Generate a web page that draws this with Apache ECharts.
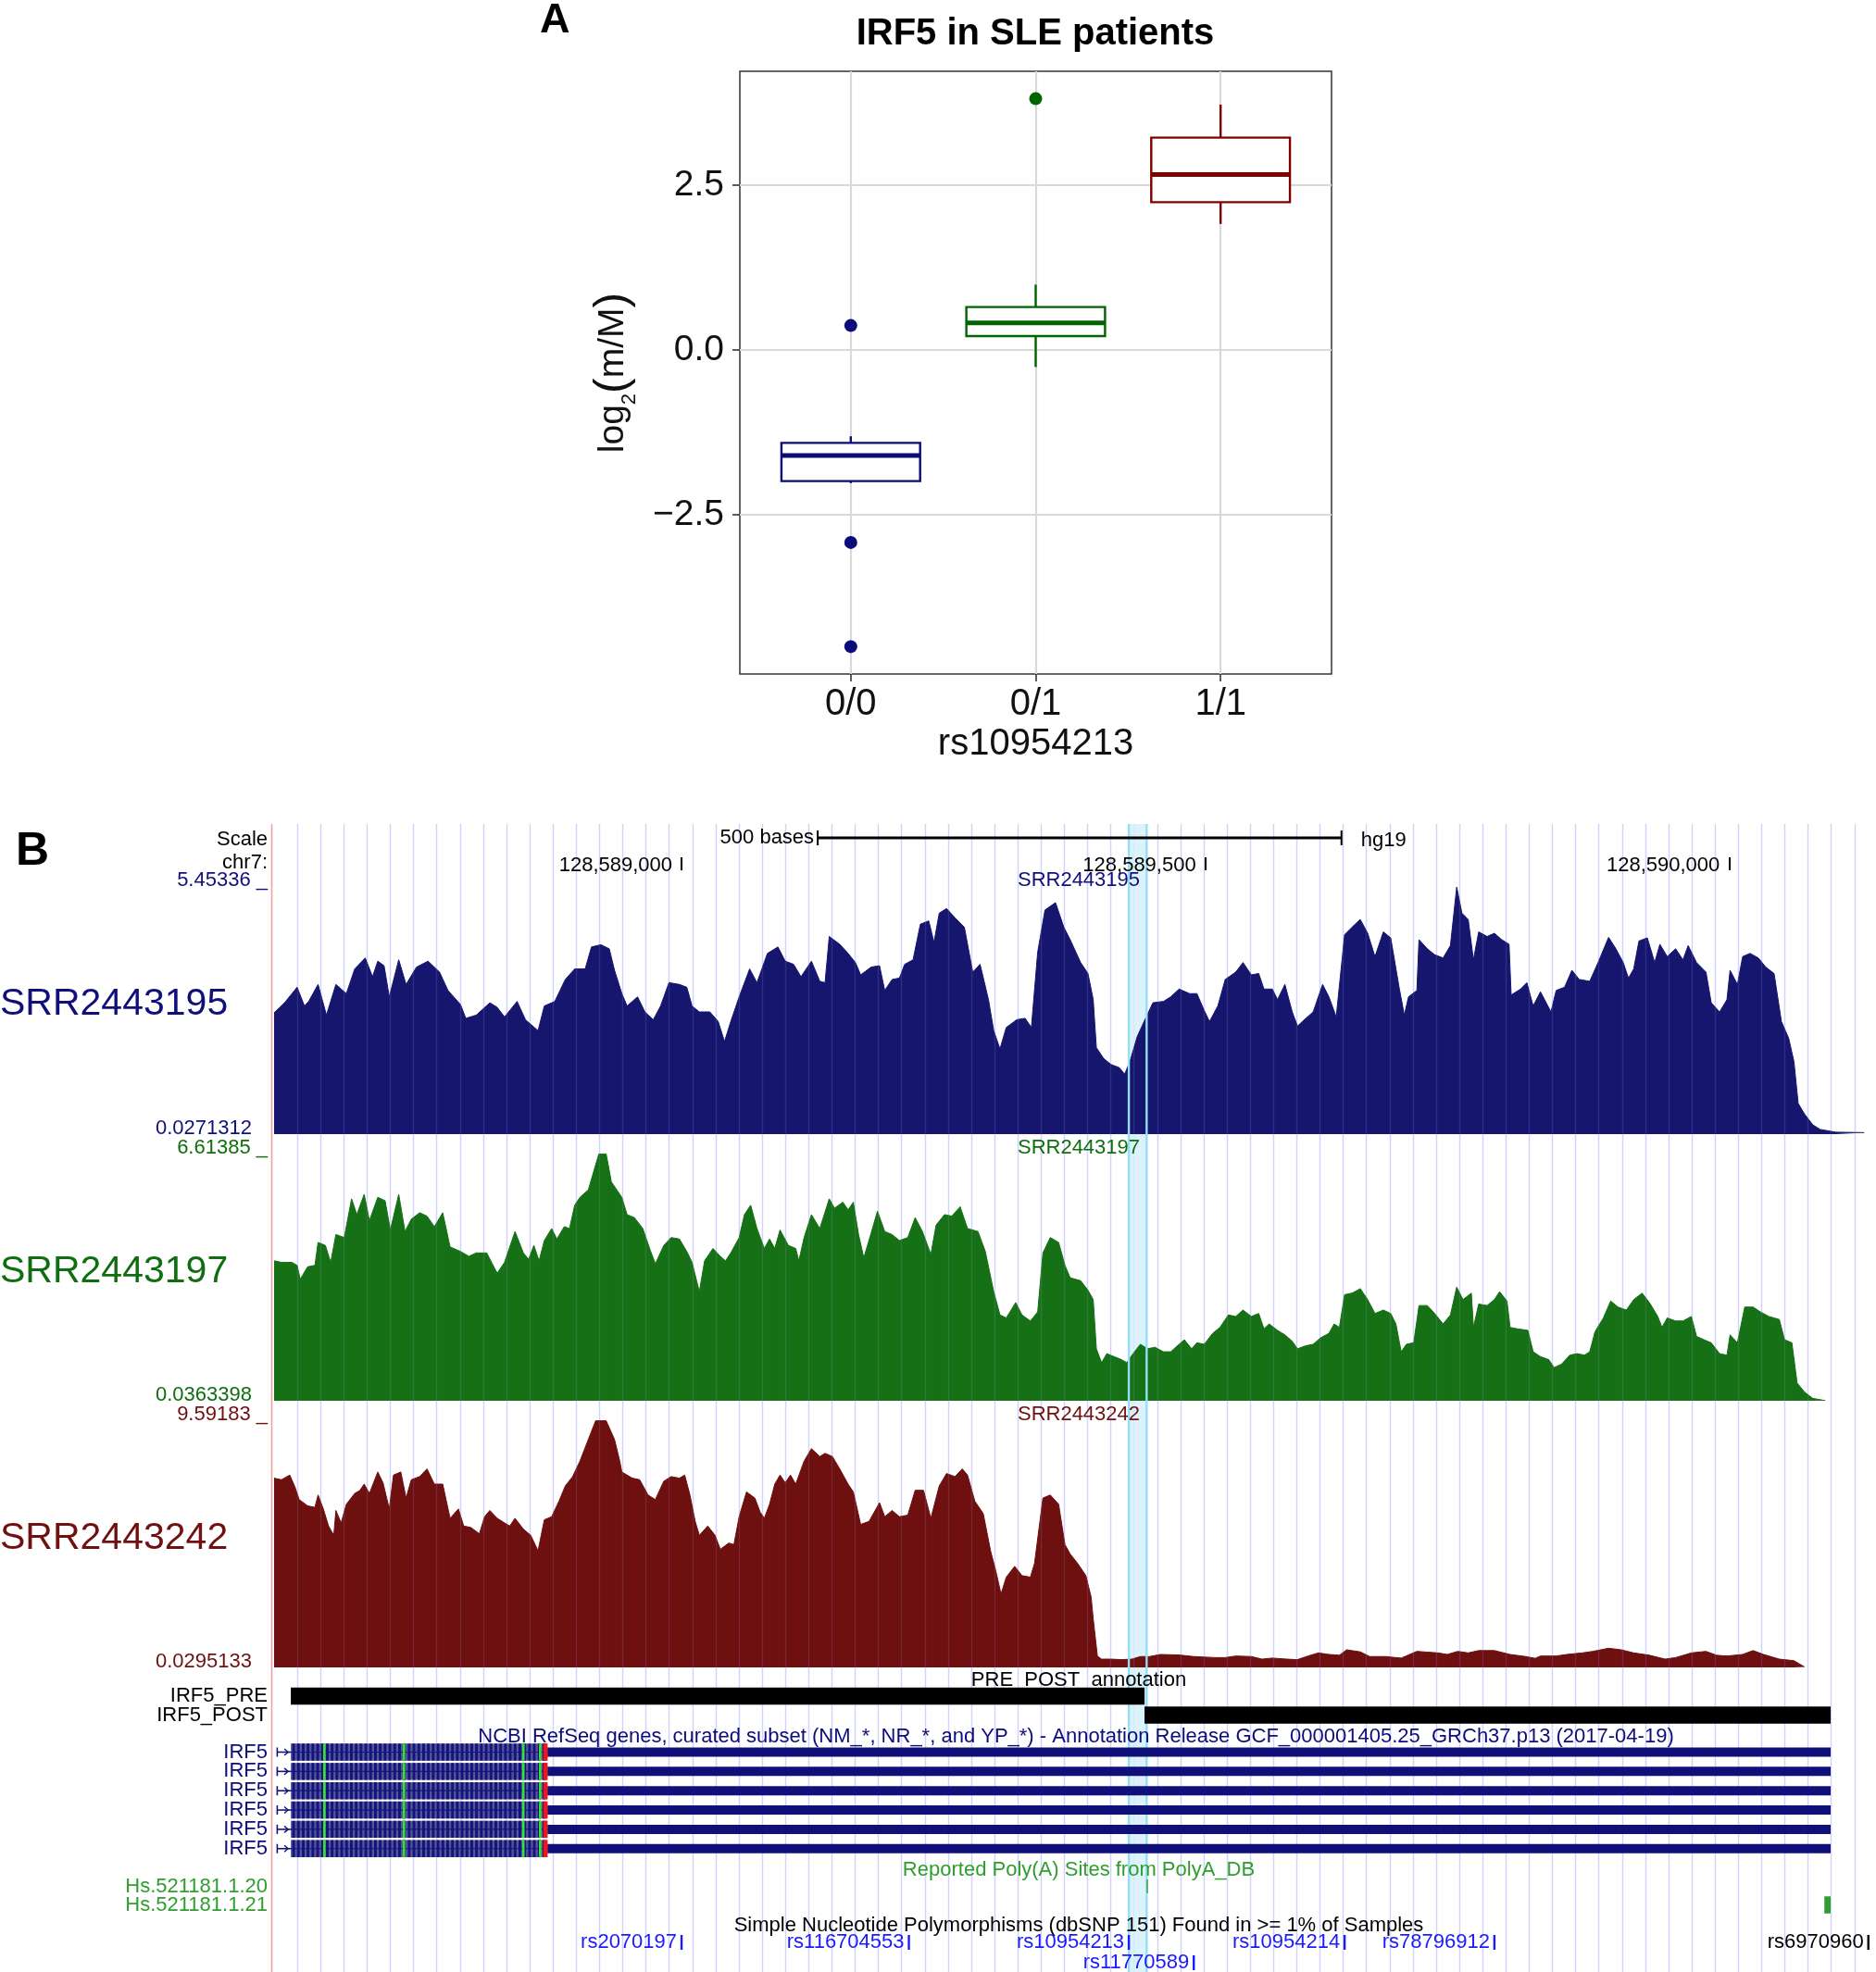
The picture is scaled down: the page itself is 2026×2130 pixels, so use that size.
<!DOCTYPE html>
<html>
<head>
<meta charset="utf-8">
<title>IRF5 in SLE patients</title>
<script src="https://cdn.jsdelivr.net/npm/echarts@6/dist/echarts.min.js"></script>
<style>
html, body { margin: 0; padding: 0; background: #fff; }
#main { width: 2026px; height: 2130px; }
</style>
</head>
<body>
<div id="main"></div>
<script>
var FONT = '"Liberation Sans", Arial, sans-serif';

// ---------- panel A: IRF5 expression by rs10954213 genotype ----------
var genotypes = ['0/0', '0/1', '1/1'];
// [lower whisker, Q1, median, Q3, upper whisker] of log2(m/M)
var boxStats = [
    [-2.02, -1.99, -1.60, -1.41, -1.31],
    [-0.26, 0.21, 0.41, 0.65, 0.99],
    [1.91, 2.24, 2.66, 3.22, 3.72]
];
// [genotype index, log2(m/M)]
var outliers = [[0, 0.37], [0, -2.92], [0, -4.50], [1, 3.81]];
var yTicksA = [-2.5, 0, 2.5];
var genoColors = ['#0b0b7a', '#006400', '#800000'];

// ---------- panel B: UCSC browser view chr7 (hg19) ----------
var VIEW_START = 128588611;
var VIEW_END = 128590135;
var posTicks = [128589000, 128589500, 128590000];
var scaleBar = [128589130, 128589630];
var highlight = [128589427, 128589444];

var trackNames = ['SRR2443195', 'SRR2443197', 'SRR2443242'];
var trackLo = [0.0271312, 0.0363398, 0.0295133];
var trackHi = [5.45336, 6.61385, 9.59183];
var trackColors = ['#16166f', '#167016', '#6e1010'];
var labelColors = ['#10107a', '#0f6e0f', '#701010'];

// coverage, [bases from view start, value]
var cov195 = [
    [0,2.68],[10,2.90],[22,3.24],[29,2.83],[33,2.93],[42,3.30],[50,2.63],[59,3.30],[69,3.10],[77,3.64],
    [87,3.88],[94,3.47],[99,3.81],[105,3.71],[110,3.03],[119,3.84],[126,3.30],[136,3.68],[147,3.81],[158,3.57],
    [166,3.17],[178,2.86],[183,2.56],[193,2.63],[206,2.90],[213,2.80],[220,2.59],[232,2.93],[240,2.53],[252,2.29],
    [258,2.83],[268,2.93],[278,3.41],[287,3.64],[297,3.64],[303,4.12],[312,4.17],[320,4.08],[325,3.61],[332,3.10],
    [337,2.83],[347,3.03],[354,2.70],[362,2.53],[369,2.83],[377,3.34],[387,3.30],[394,3.24],[399,2.83],[406,2.70],
    [416,2.70],[424,2.49],[430,2.05],[436,2.49],[444,3.03],[454,3.64],[461,3.34],[471,3.98],[481,4.12],[488,3.81],
    [496,3.74],[503,3.47],[513,3.81],[521,3.37],[526,3.34],[530,4.35],[540,4.18],[548,3.98],[555,3.78],[560,3.51],
    [570,3.68],[578,3.71],[583,3.17],[590,3.41],[597,3.44],[602,3.74],[610,3.84],[617,4.62],[625,4.69],[630,4.22],
    [635,4.86],[642,4.96],[650,4.76],[659,4.55],[667,3.57],[674,3.74],[682,2.97],[687,2.29],[693,1.89],[699,2.36],
    [709,2.53],[717,2.56],[723,2.36],[729,4.01],[736,4.93],[746,5.09],[754,4.55],
    [760,4.28],[770,3.78],[777,3.54],[782,2.97],[785,1.92],[792,1.68],[799,1.55],[807,1.48],[812,1.34],[817,1.61],
    [824,2.16],[832,2.56],[839,2.90],[849,2.93],[856,3.03],[864,3.20],[874,3.10],[881,3.10],[888,2.73],[893,2.49],
    [901,2.83],[908,3.41],[918,3.57],[925,3.78],[933,3.51],[940,3.54],[945,3.20],[953,3.20],[958,2.97],[965,3.30],
    [972,2.70],[977,2.39],[985,2.56],[992,2.70],[1001,3.30],[1007,3.03],[1014,2.59],[1022,4.39],[1032,4.62],[1037,4.72],
    [1044,4.42],[1051,3.91],[1059,4.45],[1066,4.32],[1074,3.24],[1079,2.63],[1083,3.03],[1091,3.17],[1093,4.28],[1101,4.08],
    [1108,3.95],[1116,3.88],[1123,4.15],[1129,5.43],[1134,4.86],[1140,4.72],[1145,3.84],[1150,4.45],[1158,4.35],[1165,4.42],
    [1172,4.28],[1179,4.18],[1181,3.07],[1190,3.20],[1196,3.34],[1202,2.83],[1209,3.14],[1219,2.70],[1224,3.17],[1232,3.24],
    [1239,3.61],[1246,3.41],[1256,3.37],[1264,3.78],[1274,4.33],[1281,4.08],[1288,3.78],[1293,3.44],[1298,3.64],[1303,4.25],
    [1311,4.32],[1318,3.78],[1323,4.18],[1330,3.91],[1338,4.08],[1345,3.84],[1350,4.15],[1358,3.78],[1367,3.57],[1372,2.90],
    [1380,2.70],[1387,2.97],[1390,3.61],[1397,3.30],[1402,3.91],[1409,3.98],[1417,3.88],[1424,3.68],[1432,3.54],[1439,2.49],
    [1446,2.12],[1451,1.61],[1455,0.70],[1461,0.47],[1469,0.23],[1476,0.13],[1491,0.07],[1518,0.06]
];
var cov197 = [
    [0,3.76],[7,3.72],[17,3.72],[22,3.64],[25,3.27],[32,3.60],[39,3.64],[42,4.25],[49,4.17],[54,3.72],
    [59,4.46],[67,4.38],[74,5.41],[79,4.99],[86,5.53],[91,4.83],[99,5.45],[106,5.36],[111,4.58],[119,5.53],
    [125,4.54],[131,4.87],[139,5.04],[146,4.95],[153,4.67],[161,5.04],[168,4.13],[178,4.01],[186,3.88],[193,3.97],
    [203,3.97],[213,3.43],[220,3.72],[230,4.54],[238,3.97],[243,3.80],[248,4.17],[253,3.76],[258,4.30],[265,4.62],
    [270,4.34],[277,4.67],[282,4.62],[287,5.24],[292,5.45],[300,5.65],[310,6.60],[317,6.61],[322,5.86],[332,5.45],
    [337,4.99],[344,4.91],[352,4.62],[359,4.05],[364,3.68],[372,4.17],[379,4.38],[387,4.34],[394,4.01],[399,3.72],
    [406,2.94],[411,3.76],[419,4.09],[426,3.88],[431,3.76],[436,3.97],[444,4.38],[449,4.99],[455,5.24],[461,4.62],
    [468,4.09],[473,4.34],[478,4.09],[483,4.58],[491,4.17],[498,4.09],[501,3.76],[506,4.38],[513,4.99],[521,4.62],
    [530,5.41],[535,5.16],[543,5.32],[548,5.12],[553,5.32],[558,4.46],[563,3.84],[570,4.50],[576,5.08],[583,4.54],
    [590,4.46],[597,4.30],[605,4.38],[612,4.91],[619,4.54],[627,3.93],[632,4.71],[640,4.99],[647,4.95],[655,5.20],
    [662,4.62],[672,4.54],[679,4.01],[687,2.94],[693,2.32],[699,2.24],[708,2.65],[714,2.32],[722,2.16],[729,2.40],
    [734,3.97],[741,4.38],[749,4.25],
    [755,3.64],[760,3.31],[770,3.23],[777,2.98],[782,2.73],[785,1.42],[790,1.05],[795,1.29],[802,1.21],[809,1.13],
    [814,1.05],[819,1.25],[827,1.54],[834,1.42],[841,1.46],[849,1.34],[856,1.34],[864,1.54],[869,1.66],[876,1.42],
    [881,1.58],[888,1.54],[896,1.83],[903,1.99],[911,2.32],[918,2.28],[925,2.45],[933,2.28],[940,2.36],[945,1.95],
    [950,2.08],[958,1.91],[965,1.79],[972,1.62],[977,1.42],[985,1.50],[992,1.54],[999,1.71],[1007,1.83],[1012,2.08],
    [1017,1.99],[1022,2.86],[1029,2.90],[1037,3.02],[1044,2.73],[1051,2.36],[1059,2.45],[1066,2.36],[1071,2.08],[1076,1.34],
    [1081,1.54],[1088,1.58],[1093,2.57],[1101,2.57],[1108,2.36],[1116,2.08],[1123,2.32],[1129,3.06],[1135,2.73],[1143,2.90],
    [1145,1.99],[1150,2.61],[1158,2.57],[1165,2.73],[1170,2.94],[1177,2.69],[1180,1.99],[1187,1.95],[1197,1.91],[1202,1.34],
    [1209,1.21],[1217,1.13],[1222,0.92],[1229,1.01],[1237,1.25],[1244,1.29],[1251,1.25],[1256,1.34],[1261,1.87],[1269,2.24],
    [1276,2.69],[1283,2.53],[1291,2.45],[1298,2.73],[1306,2.90],[1313,2.65],[1321,2.28],[1325,1.99],[1330,2.24],[1338,2.16],
    [1345,2.16],[1353,2.28],[1358,1.75],[1365,1.66],[1372,1.58],[1380,1.29],[1387,1.25],[1390,1.79],[1397,1.58],[1404,2.53],
    [1412,2.53],[1419,2.40],[1427,2.28],[1437,2.20],[1442,1.66],[1449,1.58],[1454,0.51],[1461,0.27],[1469,0.10],[1481,0.04]
];
var cov242 = [
    [0,7.35],[7,7.29],[15,7.47],[20,7.00],[24,6.52],[32,6.28],[39,6.22],[42,6.70],[47,6.16],[52,5.50],
    [57,5.14],[59,6.10],[64,5.62],[69,6.34],[77,6.76],[82,6.88],[86,7.12],[91,6.76],[99,7.59],[104,7.17],
    [110,6.16],[114,7.47],[121,7.59],[126,6.58],[131,7.29],[139,7.41],[146,7.71],[153,7.12],[161,7.12],[168,5.80],
    [176,6.16],[181,5.50],[188,5.44],[196,5.20],[201,5.86],[206,6.10],[213,5.80],[220,5.62],[225,5.50],[230,5.80],
    [238,5.38],[245,5.14],[252,4.54],[258,5.74],[265,5.86],[272,6.46],[278,7.05],[285,7.41],[292,8.01],[300,8.85],
    [307,9.57],[317,9.57],[325,8.85],[330,8.01],[332,7.59],[342,7.35],[349,7.29],[357,6.70],[364,6.52],[372,7.23],
    [379,7.41],[387,7.35],[392,7.47],[397,6.70],[402,5.68],[406,5.14],[414,5.50],[421,5.14],[426,4.60],[434,4.84],
    [439,4.78],[444,5.86],[451,6.82],[459,6.58],[464,6.04],[468,5.80],[473,6.34],[478,7.12],[483,7.47],[488,7.17],
    [493,7.47],[498,7.12],[506,8.01],[513,8.49],[521,8.19],[526,8.31],[533,8.19],[540,7.71],[548,7.12],[553,6.82],
    [560,5.56],[568,5.68],[573,6.04],[578,6.40],[583,5.86],[590,6.10],[597,5.86],[605,5.92],[612,6.88],[620,6.88],
    [627,5.80],[635,7.05],[642,7.53],[650,7.41],[657,7.71],[662,7.47],[669,6.46],[677,5.98],[684,4.54],[689,3.76],
    [694,2.87],[699,3.52],[707,3.94],[714,3.58],[722,3.52],[726,4.06],[734,6.58],[741,6.70],[749,6.34],
    [755,4.78],[760,4.42],[767,4.06],[775,3.58],[780,2.75],[782,1.91],[786,0.47],[790,0.35],[799,0.35],[809,0.33],
    [819,0.35],[827,0.45],[836,0.45],[846,0.53],[864,0.51],[878,0.45],[898,0.41],[908,0.41],[918,0.47],[933,0.45],
    [943,0.35],[953,0.39],[967,0.35],[977,0.33],[987,0.47],[997,0.59],[1007,0.53],[1017,0.50],[1024,0.71],[1037,0.63],
    [1046,0.45],[1061,0.45],[1076,0.39],[1091,0.65],[1101,0.62],[1111,0.59],[1120,0.53],[1130,0.65],[1140,0.59],[1150,0.68],
    [1165,0.68],[1180,0.53],[1195,0.45],[1204,0.38],[1209,0.47],[1224,0.47],[1234,0.53],[1249,0.59],[1259,0.65],[1274,0.77],
    [1286,0.71],[1298,0.59],[1313,0.50],[1328,0.35],[1338,0.41],[1353,0.59],[1367,0.65],[1377,0.50],[1387,0.47],[1402,0.53],
    [1412,0.68],[1422,0.53],[1437,0.35],[1451,0.29],[1461,0.05]
];
var coverage = [cov195, cov197, cov242];

// annotation tracks
var prePost = [['IRF5_PRE', 128588627, 128589442], ['IRF5_POST', 128589442, 128590097]];
// [name, txStart, dense block start, dense block end, txEnd]
var irf5Tx = [
    ['IRF5', 128588614, 128588627, 128588872, 128590097],
    ['IRF5', 128588614, 128588627, 128588872, 128590097],
    ['IRF5', 128588614, 128588627, 128588872, 128590097],
    ['IRF5', 128588614, 128588627, 128588872, 128590097],
    ['IRF5', 128588614, 128588627, 128588872, 128590097],
    ['IRF5', 128588614, 128588627, 128588872, 128590097]
];
var irf5Green = [128588659, 128588735, 128588849, 128588865];
var irf5Red = [128588868, 128588872];
var polyA = [['Hs.521181.1.20', 128589444, 128589445], ['Hs.521181.1.21', 128590091, 128590097]];
// [rsID, position, row]
var snps = [
    ['rs2070197', 128589000, 0], ['rs116704553', 128589217, 0], ['rs10954213', 128589427, 0],
    ['rs11770589', 128589489, 1], ['rs10954214', 128589633, 0], ['rs78796912', 128589776, 0],
    ['rs6970960', 128590133, 0]
];

// ---------- layout ----------
var TRACK_LEFT = 296, TRACK_W = 1724;
var trackTops = [957, 1246, 1534];
var trackHeights = [268, 267, 267];
var GUIDE_PX = 25.1;
var ROW = { pre: 27, post: 47.5, tx0: 87.5, txStep: 20.85, poly: [232.5, 252.5], snp: [293, 315] };
var NAVY_TXT = '#0c0c7a', POLY_GREEN = '#2f9e2f', SNP_BLUE = '#1a1aff';

var myChart = echarts.init(document.getElementById('main'));

function fmtComma(v) {
    return String(Math.round(v)).replace(/\B(?=(\d{3})+(?!\d))/g, ',');
}
function txt(x, y, s, size, color, align, weight) {
    return {
        type: 'text', x: x, y: y, z: 100, silent: true,
        style: {
            text: s, fill: color, fontSize: size, fontFamily: FONT,
            fontWeight: weight || 'normal', align: align || 'left', verticalAlign: 'middle'
        }
    };
}

var allA = [];
boxStats.forEach(function (s) { allA = allA.concat(s); });
outliers.forEach(function (o) { allA.push(o[1]); });
var aLo = Math.min.apply(null, allA), aHi = Math.max.apply(null, allA);
var aPad = 0.05 * (aHi - aLo);

var grids = [
    { left: 799, top: 77, width: 639, height: 651, show: true, borderColor: '#333', borderWidth: 1.5 }
];
var xAxes = [{
    type: 'value', gridIndex: 0, min: 0.4, max: 3.6,
    name: 'rs10954213', nameLocation: 'middle', nameGap: 56,
    nameTextStyle: { fontSize: 40, fontFamily: FONT, color: '#111' },
    axisLine: { show: false, onZero: false },
    axisTick: { show: true, length: 8, customValues: [1, 2, 3], lineStyle: { color: '#333', width: 1.6 } },
    axisLabel: {
        customValues: [1, 2, 3], margin: 13, fontSize: 40, fontFamily: FONT, color: '#111',
        formatter: function (v) { return genotypes[Math.round(v) - 1]; }
    },
    splitLine: { show: true, lineStyle: { color: '#d9d9d9', width: 2.2 } }
}];
var yAxes = [{
    type: 'value', gridIndex: 0, min: aLo - aPad, max: aHi + aPad,
    name: '{t|log}{s|2}{p|(}{t|m/M}{p|)}', nameLocation: 'middle', nameGap: 108, nameRotate: 90,
    nameTextStyle: {
        rich: {
            t: { fontSize: 39, fontFamily: FONT, color: '#111' },
            s: { fontSize: 22, fontFamily: FONT, color: '#111', padding: [36, 0, 0, 0] },
            p: { fontSize: 50, fontFamily: FONT, color: '#111' }
        }
    },
    axisLine: { show: false, onZero: false },
    axisTick: { show: true, length: 8, customValues: yTicksA, lineStyle: { color: '#333', width: 1.6 } },
    axisLabel: {
        customValues: yTicksA, margin: 17, fontSize: 39, fontFamily: FONT, color: '#111',
        formatter: function (v) { return (v < 0 ? '\u2212' : '') + Math.abs(v).toFixed(1); }
    },
    splitLine: { show: true, lineStyle: { color: '#d9d9d9', width: 2.2 } }
}];

var series = [{
    type: 'custom', xAxisIndex: 0, yAxisIndex: 0, z: 3, silent: true,
    data: boxStats.map(function (s, i) { return [i + 1].concat(s); }),
    encode: { x: 0, y: [1, 2, 3, 4, 5] },
    renderItem: function (params, api) {
        var x = api.value(0);
        var halfW = api.size([0.75, 0])[0] / 2;
        var p = [1, 2, 3, 4, 5].map(function (k) { return api.coord([x, api.value(k)]); });
        var c = genoColors[params.dataIndex];
        var cx = p[0][0];
        return {
            type: 'group', children: [
                { type: 'line', shape: { x1: cx, y1: p[3][1], x2: cx, y2: p[4][1] }, style: { stroke: c, lineWidth: 2.4 } },
                { type: 'line', shape: { x1: cx, y1: p[0][1], x2: cx, y2: p[1][1] }, style: { stroke: c, lineWidth: 2.4 } },
                { type: 'rect', shape: { x: cx - halfW, y: p[3][1], width: 2 * halfW, height: p[1][1] - p[3][1] },
                  style: { fill: '#fff', stroke: c, lineWidth: 2.4 } },
                { type: 'line', shape: { x1: cx - halfW, y1: p[2][1], x2: cx + halfW, y2: p[2][1] }, style: { stroke: c, lineWidth: 5 } }
            ]
        };
    }
}, {
    type: 'scatter', xAxisIndex: 0, yAxisIndex: 0, z: 4, silent: true,
    symbolSize: 14,
    data: outliers.map(function (o) { return [o[0] + 1, o[1]]; }),
    itemStyle: { opacity: 1, color: function (p) { return genoColors[Math.round(p.value[0]) - 1]; } }
}];

// coverage tracks (grid 1..3)
trackNames.forEach(function (name, i) {
    grids.push({ left: TRACK_LEFT, top: trackTops[i], width: TRACK_W, height: trackHeights[i] });
    var lo = trackLo[i], hi = trackHi[i], lc = labelColors[i];
    var xa = { type: 'value', gridIndex: i + 1, min: VIEW_START, max: VIEW_END, show: false };
    if (i === 0) {
        xa = {
            type: 'value', gridIndex: 1, min: VIEW_START, max: VIEW_END, position: 'top', offset: 31, z: 10,
            axisLine: { show: false },
            axisTick: { show: true, inside: true, length: 14, customValues: posTicks, lineStyle: { color: '#000', width: 2 } },
            axisLabel: {
                customValues: posTicks, margin: -9, verticalAlign: 'middle', align: 'right',
                padding: [0, 10, 0, 0], fontSize: 22, fontFamily: FONT, color: '#000',
                formatter: fmtComma
            },
            splitLine: { show: false }
        };
    }
    xAxes.push(xa);
    yAxes.push({
        type: 'value', gridIndex: i + 1, min: lo, max: hi,
        axisLine: { show: false }, axisTick: { show: false }, splitLine: { show: false },
        axisLabel: {
            customValues: [lo, hi], margin: 7, fontSize: 22, fontFamily: FONT, color: lc,
            verticalAlign: 'middle', padding: [0, 0, 13, 0],
            formatter: function (v) { return Math.abs(v - hi) < 1e-9 ? hi + ' _' : '{lo|' + lo + '}'; },
            rich: { lo: { fontSize: 22, fontFamily: FONT, color: lc, padding: [0, 17, 0, 0] } }
        }
    });
    series.push({
        type: 'line', name: name, xAxisIndex: i + 1, yAxisIndex: i + 1, z: 2, silent: true,
        showSymbol: false, symbol: 'none', smooth: false,
        data: coverage[i].map(function (d) { return [VIEW_START + d[0], d[1]]; }),
        lineStyle: { color: trackColors[i], width: 1 },
        areaStyle: { color: trackColors[i], opacity: 1, origin: 'start' }
    });
});

// scale bar above track 1
series.push({
    type: 'custom', xAxisIndex: 1, yAxisIndex: 1, z: 5, silent: true,
    data: [[scaleBar[0], scaleBar[1], trackLo[0]]],
    encode: { x: [0, 1], y: 2 },
    renderItem: function (params, api) {
        var a = api.coord([api.value(0), trackLo[0]])[0];
        var b = api.coord([api.value(1), trackLo[0]])[0];
        var y = params.coordSys.y - 52;
        var ts = { fontSize: 22, fontFamily: FONT, fill: '#000', verticalAlign: 'middle' };
        return {
            type: 'group', children: [
                { type: 'line', shape: { x1: a, y1: y, x2: b, y2: y }, style: { stroke: '#000', lineWidth: 3 } },
                { type: 'line', shape: { x1: a, y1: y - 8, x2: a, y2: y + 8 }, style: { stroke: '#000', lineWidth: 2 } },
                { type: 'line', shape: { x1: b, y1: y - 8, x2: b, y2: y + 8 }, style: { stroke: '#000', lineWidth: 2 } },
                { type: 'text', style: echarts.util.extend({ text: (api.value(1) - api.value(0)) + ' bases', x: a - 4, y: y, align: 'right' }, ts) },
                { type: 'text', style: echarts.util.extend({ text: 'hg19', x: b + 21, y: y + 3, align: 'left' }, ts) }
            ]
        };
    }
});

// guideline + highlight overlay (grid 4)
grids.push({ left: TRACK_LEFT, top: 890, width: TRACK_W, height: 1240 });
xAxes.push({
    type: 'value', gridIndex: 4, min: 0, max: TRACK_W / GUIDE_PX, interval: 1,
    axisLine: { show: false }, axisTick: { show: false }, axisLabel: { show: false },
    splitLine: { show: true, showMinLine: false, showMaxLine: false, lineStyle: { color: '#d6d6fc', width: 1.4 } }
});
xAxes.push({ type: 'value', gridIndex: 4, min: VIEW_START, max: VIEW_END, show: false });
// faint copy of the guidelines drawn over the coverage fills
xAxes.push({
    type: 'value', gridIndex: 4, min: 0, max: TRACK_W / GUIDE_PX, interval: 1, z: 3,
    axisLine: { show: false }, axisTick: { show: false }, axisLabel: { show: false },
    splitLine: { show: true, showMinLine: false, showMaxLine: false, lineStyle: { color: 'rgba(190,190,255,0.14)', width: 1.4 } }
});
yAxes.push({ type: 'value', gridIndex: 4, min: 0, max: 1, show: false });

function bandRender(edges) {
    return function (params, api) {
        var a = api.coord([api.value(0), 0])[0];
        var b = api.coord([api.value(1), 0])[0];
        var cs = params.coordSys;
        if (!edges) {
            return { type: 'rect', shape: { x: a, y: cs.y, width: b - a, height: cs.height }, style: { fill: '#dcf3fb' } };
        }
        return {
            type: 'group', children: [
                { type: 'line', shape: { x1: a, y1: cs.y, x2: a, y2: cs.y + cs.height }, style: { stroke: '#96def6', lineWidth: 2.4 } },
                { type: 'line', shape: { x1: b, y1: cs.y, x2: b, y2: cs.y + cs.height }, style: { stroke: '#96def6', lineWidth: 2.4 } }
            ]
        };
    };
}
series.push({
    type: 'custom', xAxisIndex: 5, yAxisIndex: 4, z: 1, silent: true,
    data: [[highlight[0], highlight[1], 0]], encode: { x: [0, 1], y: 2 },
    renderItem: bandRender(false)
});
series.push({
    type: 'custom', xAxisIndex: 5, yAxisIndex: 4, z: 3, silent: true,
    data: [[highlight[0], highlight[1], 0]], encode: { x: [0, 1], y: 2 },
    renderItem: bandRender(true)
});

// annotation tracks (grid 5), y in pixel rows from the grid top
grids.push({ left: TRACK_LEFT, top: 1805, width: TRACK_W, height: 325 });
xAxes.push({ type: 'value', gridIndex: 5, min: VIEW_START, max: VIEW_END, show: false });
yAxes.push({ type: 'value', gridIndex: 5, min: 0, max: 325, inverse: true, show: false });

function rowLabel(params, s, yc, color) {
    return {
        type: 'text',
        style: { text: s, x: params.coordSys.x - 7, y: yc, align: 'right', verticalAlign: 'middle',
                 fontSize: 22, fontFamily: FONT, fill: color }
    };
}

series.push({
    type: 'custom', xAxisIndex: 7, yAxisIndex: 5, z: 4, silent: true,
    data: prePost.map(function (d, i) { return [d[1], d[2], i]; }), encode: { x: [0, 1], y: 2 },
    renderItem: function (params, api) {
        var row = api.value(2);
        var yc = params.coordSys.y + (row === 0 ? ROW.pre : ROW.post);
        var a = api.coord([api.value(0), 0])[0], b = api.coord([api.value(1), 0])[0];
        return {
            type: 'group', children: [
                { type: 'rect', shape: { x: a, y: yc - 9.25, width: b - a, height: 18.5 }, style: { fill: '#000' } },
                rowLabel(params, prePost[params.dataIndex][0], yc, '#000')
            ]
        };
    }
});

series.push({
    type: 'custom', xAxisIndex: 7, yAxisIndex: 5, z: 4, silent: true,
    data: irf5Tx.map(function (d, i) { return [d[1], d[2], d[3], d[4], i]; }), encode: { x: [0, 1, 2, 3], y: 4 },
    renderItem: function (params, api) {
        var row = api.value(4);
        var yc = params.coordSys.y + ROW.tx0 + row * ROW.txStep;
        var px = function (bp) { return api.coord([bp, 0])[0]; };
        var xs = px(api.value(0)), xb = px(api.value(1)), xe = px(api.value(2)), xt = px(api.value(3));
        var navy = '#14147a';
        var ch = [
            { type: 'line', shape: { x1: xs, y1: yc - 5, x2: xs, y2: yc + 5 }, style: { stroke: navy, lineWidth: 1.6 } },
            { type: 'line', shape: { x1: xs, y1: yc, x2: xb, y2: yc }, style: { stroke: navy, lineWidth: 1.6 } },
            { type: 'polyline', shape: { points: [[xb - 7, yc - 3.5], [xb - 3, yc], [xb - 7, yc + 3.5]] }, style: { stroke: navy, lineWidth: 1.4, fill: null } },
            { type: 'rect', shape: { x: xb, y: yc - 9.2, width: xe - xb, height: 18.4 }, style: { fill: '#55559a' } }
        ];
        // exon stripes of the dense coding block
        for (var sx = xb + 1.5; sx < xe - 1; sx += 5.2) {
            ch.push({ type: 'rect', shape: { x: sx, y: yc - 9.2, width: 2.9, height: 18.4 }, style: { fill: navy } });
        }
        ch.push({ type: 'line', shape: { x1: xb, y1: yc, x2: xe, y2: yc }, style: { stroke: navy, lineWidth: 1.2 } });
        irf5Green.forEach(function (g) {
            var gx = px(g);
            ch.push({ type: 'line', shape: { x1: gx, y1: yc - 9.2, x2: gx, y2: yc + 9.2 }, style: { stroke: '#2fe62f', lineWidth: 2.6 } });
        });
        var r0 = px(irf5Red[0]), r1 = px(irf5Red[1]);
        ch.push({ type: 'rect', shape: { x: r0, y: yc - 9.2, width: r1 - r0, height: 18.4 }, style: { fill: '#ff1010' } });
        ch.push({ type: 'rect', shape: { x: xe, y: yc - 5, width: xt - xe, height: 10 }, style: { fill: '#10107a' } });
        ch.push(rowLabel(params, irf5Tx[params.dataIndex][0], yc, NAVY_TXT));
        return { type: 'group', children: ch };
    }
});

series.push({
    type: 'custom', xAxisIndex: 7, yAxisIndex: 5, z: 4, silent: true,
    data: polyA.map(function (d, i) { return [d[1], d[2], i]; }), encode: { x: [0, 1], y: 2 },
    renderItem: function (params, api) {
        var row = api.value(2);
        var yc = params.coordSys.y + ROW.poly[row];
        var a = api.coord([api.value(0), 0])[0], b = api.coord([api.value(1), 0])[0];
        var h = row === 0 ? 15 : 18.5;
        return {
            type: 'group', children: [
                { type: 'rect', shape: { x: a, y: yc - h / 2, width: Math.max(b - a, 1.4), height: h }, style: { fill: POLY_GREEN } },
                rowLabel(params, polyA[params.dataIndex][0], yc, POLY_GREEN)
            ]
        };
    }
});

series.push({
    type: 'custom', xAxisIndex: 7, yAxisIndex: 5, z: 4, silent: true,
    data: snps.map(function (d) { return [d[1], d[2]]; }), encode: { x: 0, y: 1 },
    renderItem: function (params, api) {
        var pos = api.value(0);
        var yc = params.coordSys.y + ROW.snp[api.value(1)];
        var x = api.coord([pos, 0])[0];
        // features at the window edge are drawn in black, like the browser does
        var c = (VIEW_END - pos) < 5 ? '#000' : SNP_BLUE;
        return {
            type: 'group', children: [
                { type: 'rect', shape: { x: x - 1.2, y: yc - 8, width: 2.4, height: 16 }, style: { fill: c } },
                { type: 'text', style: { text: snps[params.dataIndex][0], x: x - 5, y: yc, align: 'right', verticalAlign: 'middle',
                                         fontSize: 22, fontFamily: FONT, fill: c } }
            ]
        };
    }
});

// static texts
var graphics = [
    txt(583, 23, 'A', 45, '#000', 'left', 'bold'),
    txt(1118, 37, 'IRF5 in SLE patients', 40, '#000', 'center', 'bold'),
    txt(17, 920, 'B', 50, '#000', 'left', 'bold'),
    { type: 'line', z: 90, silent: true, shape: { x1: 293.5, y1: 890, x2: 293.5, y2: 2130 }, style: { stroke: '#f2a0a0', lineWidth: 1.6 } },
    txt(289, 907, 'Scale', 22, '#000', 'right'),
    txt(289, 932, 'chr7:', 22, '#000', 'right'),
    txt(1165, 1815, 'PRE_POST_annotation', 22, '#000', 'center'),
    txt(1162, 1876, 'NCBI RefSeq genes, curated subset (NM_*, NR_*, and YP_*) - Annotation Release GCF_000001405.25_GRCh37.p13 (2017-04-19)', 22, NAVY_TXT, 'center'),
    txt(1165, 2020, 'Reported Poly(A) Sites from PolyA_DB', 22, POLY_GREEN, 'center'),
    txt(1165, 2080, 'Simple Nucleotide Polymorphisms (dbSNP 151) Found in >= 1% of Samples', 22, '#000', 'center')
];
trackNames.forEach(function (name, i) {
    graphics.push(txt(1165, trackTops[i] - 6, name, 22, labelColors[i], 'center'));
    graphics.push(txt(0, trackTops[i] + 128, name, 41, labelColors[i], 'left'));
});

var option = {
    animation: false,
    backgroundColor: '#fff',
    grid: grids,
    xAxis: xAxes,
    yAxis: yAxes,
    series: series,
    graphic: graphics
};

myChart.setOption(option);
</script>
</body>
</html>
